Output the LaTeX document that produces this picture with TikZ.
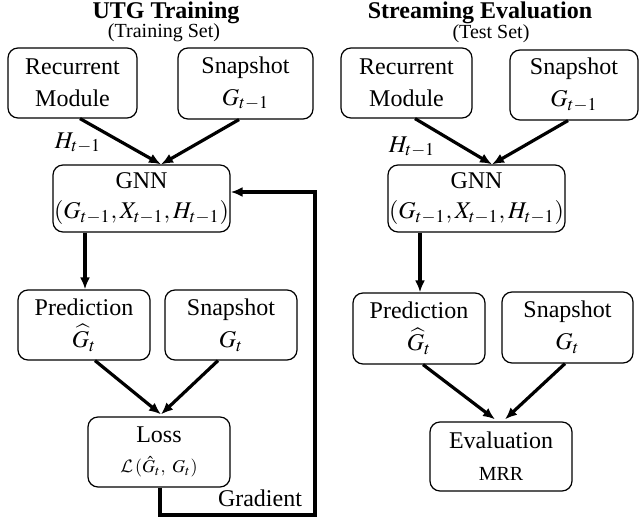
\documentclass[tikz,border=0pt]{standalone}
\usepackage{mathptmx}
\usepackage{fontspec}
\setmainfont{Liberation Serif}
\DeclareMathAlphabet{\mathcalcm}{OMS}{cmsy}{m}{n}
\usetikzlibrary{arrows.meta,calc}
\begin{document}
\begin{tikzpicture}[x=0.5pt,y=-0.5pt,
  box/.style={draw,rounded corners=5pt,line width=0.6pt,align=center,font=\fontsize{12}{15}\selectfont,inner sep=0pt},
  conn/.style={line width=1.6pt,-{Latex[length=6pt,width=5pt]}},
  lbl/.style={font=\fontsize{12}{14}\selectfont,inner sep=0pt}]
\useasboundingbox (0,0) rectangle (639,518);
% titles
\node[lbl,font=\fontsize{12}{14}\selectfont\bfseries] (t1) at (166,13) {UTG Training};
\node[lbl,font=\fontsize{10}{12}\selectfont] (s1) at (164,33) {(Training Set)};
\node[lbl,font=\fontsize{12}{14}\selectfont\bfseries] (t2) at (480,13) {Streaming Evaluation};
\node[lbl,font=\fontsize{10}{12}\selectfont] (s2) at (491,34) {(Test Set)};
% left column
\node[box,minimum width=64.5pt,minimum height=35pt] (rec1) at (72.5,83) {Recurrent\\[1pt]Module};
\node[box,minimum width=67.5pt,minimum height=35.5pt] (snap1) at (245.5,83.5) {Snapshot\\[1pt]$G_{t-1}$};
\node[box,minimum width=88.5pt,minimum height=33.5pt] (gnn1) at (141.5,198.5) {GNN\\$(G_{t-1},X_{t-1},H_{t-1})$};
\node[box,minimum width=66pt,minimum height=35pt] (pred1) at (84,325) {Prediction\\[1pt]$\widehat{G}_t$};
\node[box,minimum width=66pt,minimum height=35pt] (snapt1) at (231,325) {Snapshot\\[1pt]$G_t$};
\node[box,minimum width=71pt,minimum height=35pt] (loss1) at (159,452) {Loss\\{\small$\mathcalcm{L}\,(\hat{G}_t,\ G_t)$}};
\node[lbl] (h1) at (78,143) {$H_{t-1}$};
\node[lbl] (grad) at (260,498) {Gradient};
\coordinate (m1) at ([xshift=9.75pt]gnn1.north);
\draw[conn] ([xshift=3.75pt]rec1.south) -- (m1);
\draw[conn] ([xshift=-3.25pt]snap1.south) -- (m1);
\draw[conn] ([xshift=-28.25pt]gnn1.south) -- ([xshift=-28.25pt]gnn1.south |- pred1.north);
\coordinate (m2) at ([xshift=1pt,yshift=1pt]loss1.north);
\draw[conn] ([xshift=5.5pt]pred1.south) -- (m2);
\draw[conn] ([xshift=-6.5pt]snapt1.south) -- (m2);
\coordinate (c1) at ([xshift=0.5pt]loss1.south);
\coordinate (c2) at (c1 |- 0,515);
\coordinate (c3) at (315,515);
\coordinate (c4) at ([yshift=3.25pt]gnn1.east);
\draw[conn] (c1) -- (c2) -- (c3) -- (c3 |- c4) -- (c4);
% right column
\node[box,minimum width=65.5pt,minimum height=35pt] (rec2) at (406.5,83) {Recurrent\\[1pt]Module};
\node[box,minimum width=64pt,minimum height=35pt] (snap2) at (574,85) {Snapshot\\[1pt]$G_{t-1}$};
\node[box,minimum width=88.5pt,minimum height=33.5pt] (gnn2) at (476.5,198.5) {GNN\\$(G_{t-1},X_{t-1},H_{t-1})$};
\node[box,minimum width=66pt,minimum height=35.5pt] (pred2) at (419,328.5) {Prediction\\[1pt]$\widehat{G}_t$};
\node[box,minimum width=65.5pt,minimum height=35.5pt] (snapt2) at (567.5,327.5) {Snapshot\\[1pt]$G_t$};
\node[box,minimum width=71pt,minimum height=34.5pt] (eval2) at (501,456.5) {Evaluation\\[1pt]{\fontsize{10}{12}\selectfont MRR}};
\node[lbl] (h2) at (412,147) {$H_{t-1}$};
\coordinate (m3) at ([xshift=7.75pt]gnn2.north);
\draw[conn] ([xshift=4.25pt]rec2.south) -- (m3);
\draw[conn] ([xshift=-3pt]snap2.south) -- (m3);
\draw[conn] ([xshift=-28.25pt]gnn2.south) -- ([xshift=-28.25pt]gnn2.south |- pred2.north);
\draw[conn] ([xshift=2pt]pred2.south) -- ([xshift=-3pt,yshift=1pt]eval2.north);
\draw[conn] ([xshift=-1.25pt]snapt2.south) -- ([xshift=2pt,yshift=1pt]eval2.north);
\end{tikzpicture}
\end{document}
